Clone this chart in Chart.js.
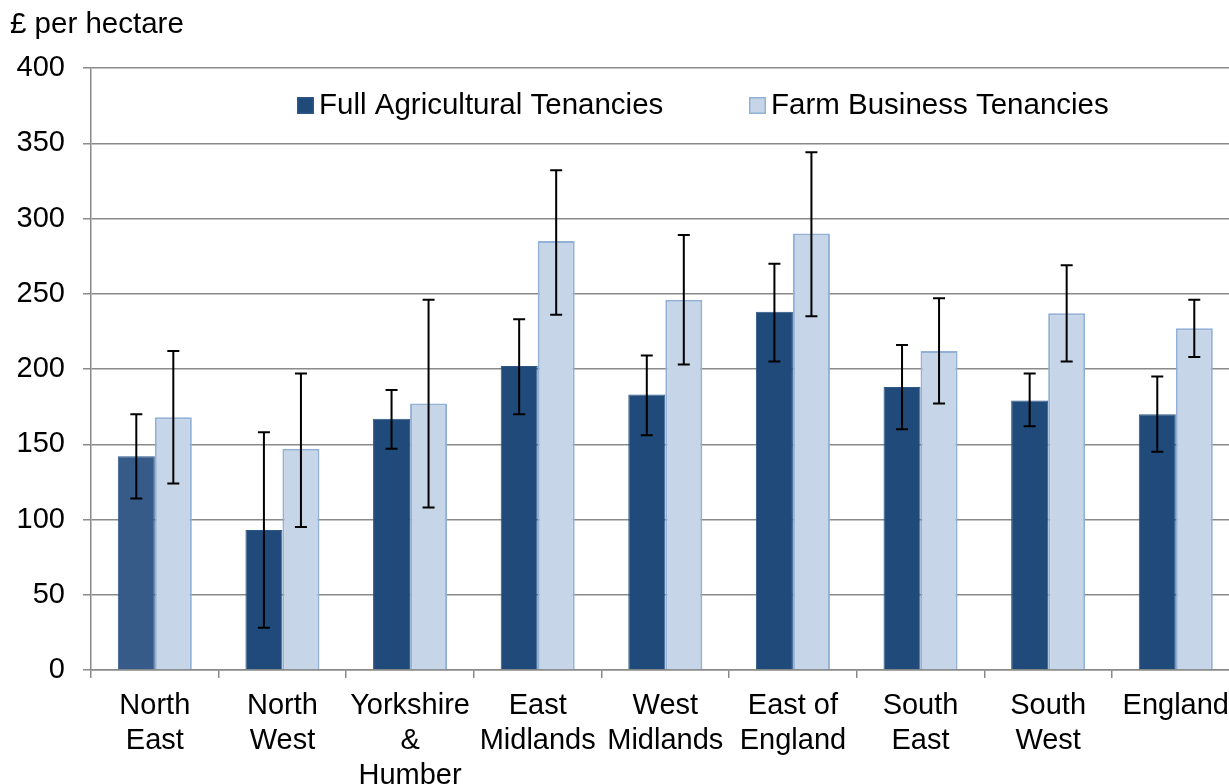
<!DOCTYPE html>
<html>
<head>
<meta charset="utf-8">
<script src="https://cdn.jsdelivr.net/npm/chart.js@4/dist/chart.umd.min.js"></script>
<style>
  html, body { margin: 0; padding: 0; background: #fff; overflow: hidden; }
  #wrap { width: 1229px; height: 784px; overflow: hidden; }
</style>
</head>
<body>
<div id="wrap"><canvas id="rentChart" width="1240" height="784"></canvas></div>
<script>
const categories = [['North', 'East'], ['North', 'West'], ['Yorkshire', '&', 'Humber'], ['East', 'Midlands'], ['West', 'Midlands'], ['East of', 'England'], ['South', 'East'], ['South', 'West'], ['England']];

const fullAgri = [142, 93, 167, 202, 183, 238, 188, 179, 170];
const fullAgriLow = [114, 28, 147, 170, 156, 205, 160, 162, 145];
const fullAgriHigh = [170, 158, 186, 233, 209, 270, 216, 197, 195];

const farmBiz = [168, 147, 177, 285, 246, 290, 212, 237, 227];
const farmBizLow = [124, 95, 108, 236, 203, 235, 177, 205, 208];
const farmBizHigh = [212, 197, 246, 332, 289, 344, 247, 269, 246];

const yTicks = [0, 50, 100, 150, 200, 250, 300, 350, 400];

const FONT = "'Liberation Sans', Arial, sans-serif";
const darkBlue = '#1f4a7a';
const lightBlue = '#c6d5e8';
const lightEdge = '#93b0d5';
const grey = '#8a8a8a';

// dark bars, first one is a bit lighter in the original
const darkFills = fullAgri.map((v, i) => i === 0 ? '#375b88' : darkBlue);

const errorLows = [fullAgriLow, farmBizLow];
const errorHighs = [fullAgriHigh, farmBizHigh];

const errorBars = {
    id: 'errorBars',
    afterDatasetsDraw(chart) {
        const ctx = chart.ctx;
        const y = chart.scales.y;
        ctx.save();
        ctx.strokeStyle = '#000';
        ctx.lineWidth = 2;
        chart.data.datasets.forEach((ds, di) => {
            const meta = chart.getDatasetMeta(di);
            meta.data.forEach((bar, j) => {
                const x = bar.x;
                const top = y.getPixelForValue(errorHighs[di][j]);
                const bot = y.getPixelForValue(errorLows[di][j]);
                ctx.beginPath();
                ctx.moveTo(x, top); ctx.lineTo(x, bot);
                ctx.moveTo(x - 6, top); ctx.lineTo(x + 6, top);
                ctx.moveTo(x - 6, bot); ctx.lineTo(x + 6, bot);
                ctx.stroke();
            });
        });
        ctx.restore();
    }
};

const extras = {
    id: 'extras',
    afterDraw(chart) {
        const ctx = chart.ctx;
        ctx.save();
        ctx.fillStyle = '#000';
        ctx.font = '29.5px ' + FONT;
        ctx.textBaseline = 'middle';
        ctx.textAlign = 'left';
        ctx.fillText('£ per hectare', 10, 25);

        // legend inside the plot
        const items = [
            { x: 297, text: 'Full Agricultural Tenancies', fill: darkBlue, edge: '#2d5788' },
            { x: 749, text: 'Farm Business Tenancies', fill: lightBlue, edge: lightEdge }
        ];
        items.forEach(it => {
            ctx.fillStyle = it.fill;
            ctx.fillRect(it.x, 97, 17, 17);
            ctx.strokeStyle = it.edge;
            ctx.lineWidth = 1.5;
            ctx.strokeRect(it.x + 0.75, 97.75, 15.5, 15.5);
            ctx.fillStyle = '#000';
            ctx.fillText(it.text, it.x + 22, 106);
        });
        ctx.restore();
    }
};

const ctx = document.getElementById('rentChart').getContext('2d');
const rentChart = new Chart(ctx, {
    type: 'bar',
    data: {
        labels: categories,
        datasets: [
            {
                label: 'Full Agricultural Tenancies',
                data: fullAgri,
                backgroundColor: darkFills,
                borderColor: '#2d5788',
                borderWidth: 1,
                categoryPercentage: 0.58,
                barPercentage: 1.0
            },
            {
                label: 'Farm Business Tenancies',
                data: farmBiz,
                backgroundColor: lightBlue,
                borderColor: lightEdge,
                borderWidth: 2,
                categoryPercentage: 0.58,
                barPercentage: 1.0
            }
        ]
    },
    options: {
        responsive: false,
        animation: false,
        devicePixelRatio: 1,
        layout: { padding: { top: 68, left: 0, right: 0, bottom: 0 } },
        scales: {
            x: {
                grid: {
                    offset: true,
                    drawOnChartArea: false,
                    drawTicks: true,
                    tickLength: 8,
                    color: grey,
                    lineWidth: 1.5
                },
                border: { display: true, color: grey, width: 1.5 },
                ticks: {
                    color: '#000',
                    font: { family: FONT, size: 29, lineHeight: 1.2 },
                    padding: 11,
                    maxRotation: 0,
                    autoSkip: false
                },
                afterFit(scale) { scale.height = 114; }
            },
            y: {
                min: 0,
                max: 400,
                afterBuildTicks(scale) { scale.ticks = yTicks.map(v => ({ value: v })); },
                grid: {
                    color: grey,
                    lineWidth: 1.5,
                    tickLength: 8
                },
                border: { display: true, color: grey, width: 1.5 },
                ticks: {
                    color: '#000',
                    font: { family: FONT, size: 29 },
                    padding: 18
                },
                afterFit(scale) { scale.width = 91; }
            }
        },
        plugins: {
            legend: { display: false },
            tooltip: { enabled: false }
        }
    },
    plugins: [errorBars, extras]
});
</script>
</body>
</html>
